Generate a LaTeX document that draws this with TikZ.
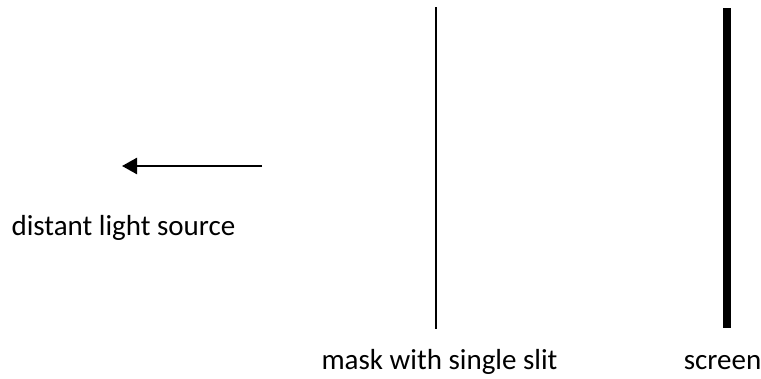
\documentclass[tikz,border=0pt]{standalone}
\usepackage{fontspec}
\setmainfont{Carlito}
\usetikzlibrary{arrows.meta}
\begin{document}
\begin{tikzpicture}[x=1pt,y=-1pt,
  lbl/.style={font=\fontsize{29}{34}\selectfont, inner sep=0pt, anchor=base},
  ray/.style={line width=2.5pt, -{Triangle[length=15pt,width=16pt]}}]
\useasboundingbox (0,0) rectangle (761,378);
\coordinate (ma) at (436,7);
\coordinate (mb) at (436,329);
\draw[line width=1.3pt] (ma) -- (mb);
\coordinate (sa) at (726.5,8);
\coordinate (sb) at (726.5,328);
\draw[line width=8pt] (sa) -- (sb);
\coordinate (r1) at (262,166);
\coordinate (r2) at (122,166);
\draw[ray] (r1) -- (r2);
\node[lbl] (src) at (123.5,235) {distant light source};
\node[lbl] (mask) at (439.5,369) {mask with single slit};
\node[lbl] (scr) at (722.5,369) {screen};
\end{tikzpicture}
\end{document}
